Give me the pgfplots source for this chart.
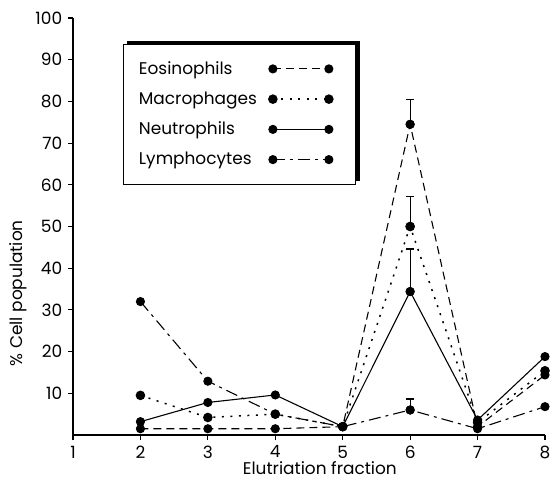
\documentclass[border=0pt]{standalone}
\usepackage{pgfplots}
\pgfplotsset{compat=1.18}
\usepackage{fontspec}
\setmainfont{Poppins}
\usetikzlibrary{backgrounds}

\begin{document}
\fontsize{17}{20}\selectfont
\begin{tikzpicture}
\begin{axis}[
  scale only axis, width=472bp, height=417bp,
  xmin=1, xmax=8, ymin=0, ymax=100,
  axis lines=left, axis line style={-, line width=1.3pt},
  xtick={1,...,8}, ytick={10,20,...,100},
  tick align=outside, major tick length=5bp,
  tick style={line width=1.1pt, black},
  /pgf/number format/assume math mode=true,
  ticklabel style={font=\fontsize{17}{20}\selectfont},
  xlabel={Elutriation fraction}, ylabel={\% Cell population},
  xlabel style={at={(axis description cs:0.523,0)}, anchor=base, yshift=-39bp},
  ylabel style={at={(axis description cs:-0.1165,0.34)}, anchor=center},
  clip=false,
  every axis plot/.append style={line width=1.1pt, mark=*, mark size=4bp, mark options={solid, fill=black}},
  legend plot pos=right,
  legend image code/.code={\draw[#1] plot coordinates {(0bp,0bp) (56bp,0bp)}; \path (68bp,0bp);},
  legend style={name=leg, at={(axis description cs:0.105,0.938)}, anchor=north west,
    draw=black, line width=0.7pt, fill=white, inner xsep=14bp, inner ysep=15bp,
    row sep=11bp, column sep=10bp, font=\fontsize{17}{20}\selectfont},
  legend cell align=left,
]
% Eosinophils
\addplot[black, dash pattern=on 8bp off 5bp] coordinates {
  (2,1.5) (3,1.5) (4,1.5) (5,2) (6,74.5) (7,2) (8,14.4)};
% Macrophages
\addplot[black, line width=1.5pt, dash pattern=on 2bp off 6.5bp] coordinates {
  (2,9.5) (3,4.2) (4,5) (5,2) (6,50) (7,3) (8,15.4)};
% Neutrophils
\addplot[black] coordinates {
  (2,3.2) (3,7.8) (4,9.6) (5,2) (6,34.4) (7,3.6) (8,18.8)};
% Lymphocytes
\addplot[black, dash pattern=on 12bp off 5bp on 3bp off 5bp] coordinates {
  (2,32) (3,12.9) (4,5) (5,2) (6,6) (7,1.5) (8,6.8)};
\legend{Eosinophils, Macrophages, Neutrophils, Lymphocytes}
% error bars at fraction 6
\addplot[forget plot, only marks, black,
  error bars/.cd, y dir=plus, y explicit, error mark=|,
  error bar style={solid, line width=1.1pt},
  error mark options={mark size=4bp, line width=1.3pt}]
  coordinates {(6,74.5) +- (0,6) (6,50) +- (0,7.2) (6,34.4) +- (0,10.2) (6,6) +- (0,2.6)};
\end{axis}
\begin{pgfonlayer}{background}
  \fill[black] ([shift={(4bp,3bp)}]leg.south west) rectangle ([shift={(4bp,3bp)}]leg.north east);
\end{pgfonlayer}
\pgfresetboundingbox
\path[use as bounding box] (-73bp,-45bp) rectangle (484bp,435bp);
\end{tikzpicture}
\end{document}
